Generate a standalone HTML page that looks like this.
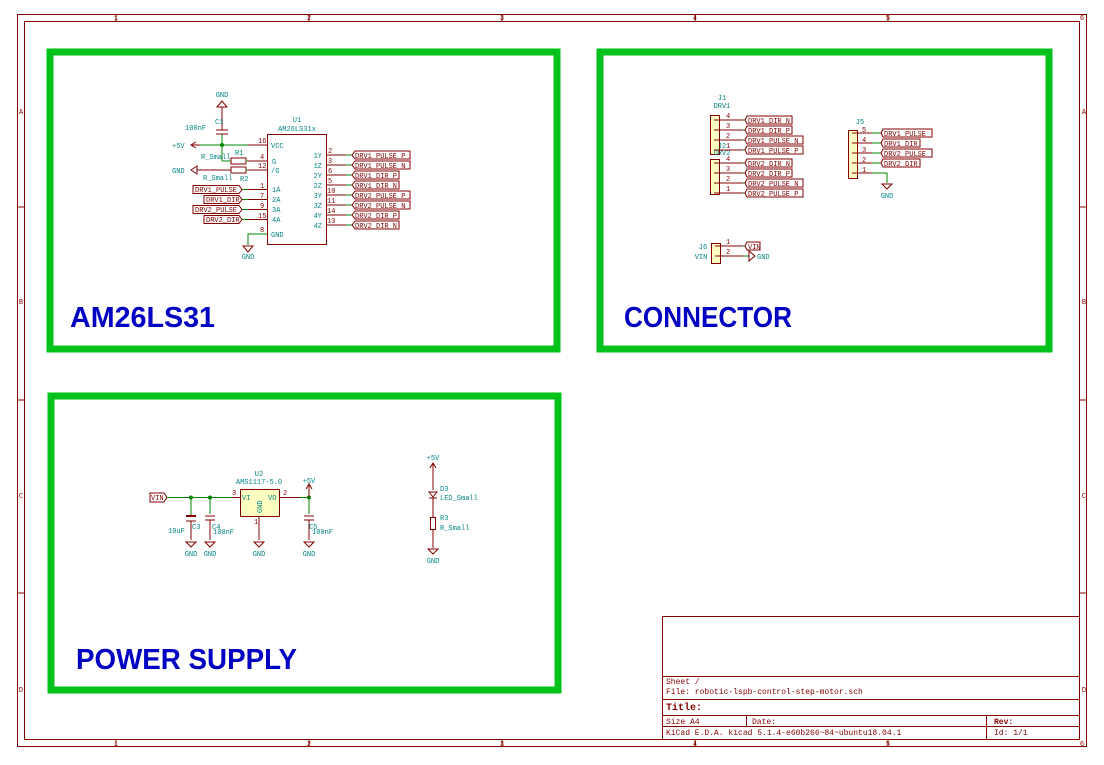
<!DOCTYPE html>
<html><head><meta charset="utf-8"><style>
html,body{margin:0;padding:0;background:#fff;}
svg{display:block;}
text{font-family:"Liberation Mono",monospace;}
.r{fill:#840000;}
.t{fill:#008484;}
.lb{fill:#fff;stroke:#840000;stroke-width:1;}
.pw{stroke:#840000;stroke-width:1;fill:none;}
.w{stroke:#008400;stroke-width:1;fill:none;}
.body{fill:#ffffc2;stroke:#840000;stroke-width:1;}
.g{fill:none;stroke:#00c21a;stroke-width:7;}
.big{font-family:"Liberation Sans",sans-serif;font-weight:bold;fill:#0000c2;}
</style></head><body>
<svg width="1104" height="765" viewBox="0 0 1104 765" xmlns="http://www.w3.org/2000/svg">
<!-- frame -->
<rect x="17.5" y="14.5" width="1069" height="732" fill="none" stroke="#840000"/>
<rect x="24.5" y="21.5" width="1055" height="718" fill="none" stroke="#840000"/>
<g stroke="#840000">
<line x1="116" y1="14" x2="116" y2="21"/><line x1="309" y1="14" x2="309" y2="21"/><line x1="502" y1="14" x2="502" y2="21"/><line x1="695" y1="14" x2="695" y2="21"/><line x1="888" y1="14" x2="888" y2="21"/>
<line x1="116" y1="740" x2="116" y2="747"/><line x1="309" y1="740" x2="309" y2="747"/><line x1="502" y1="740" x2="502" y2="747"/><line x1="695" y1="740" x2="695" y2="747"/><line x1="888" y1="740" x2="888" y2="747"/>
<line x1="17" y1="207" x2="24" y2="207"/><line x1="17" y1="400" x2="24" y2="400"/><line x1="17" y1="593" x2="24" y2="593"/>
<line x1="1080" y1="207" x2="1087" y2="207"/><line x1="1080" y1="400" x2="1080" y2="400"/><line x1="1080" y1="400" x2="1087" y2="400"/><line x1="1080" y1="593" x2="1087" y2="593"/>
</g>
<g class="r" font-size="7" text-anchor="middle">
<text x="116" y="20">1</text><text x="309" y="20">2</text><text x="502" y="20">3</text><text x="695" y="20">4</text><text x="888" y="20">5</text><text x="1082" y="20">6</text>
<text x="116" y="746">1</text><text x="309" y="746">2</text><text x="502" y="746">3</text><text x="695" y="746">4</text><text x="888" y="746">5</text><text x="1082" y="746">6</text>
<text x="21" y="114">A</text><text x="21" y="304">B</text><text x="21" y="498">C</text><text x="21" y="692">D</text>
<text x="1084" y="114">A</text><text x="1084" y="304">B</text><text x="1084" y="498">C</text><text x="1084" y="692">D</text>
</g>
<!-- title block -->
<g stroke="#840000" fill="none">
<rect x="662.5" y="616.5" width="417" height="123"/>
<line x1="662" y1="676.5" x2="1080" y2="676.5"/>
<line x1="662" y1="699.5" x2="1080" y2="699.5"/>
<line x1="662" y1="715.5" x2="1080" y2="715.5"/>
<line x1="662" y1="726.5" x2="1080" y2="726.5"/>
<line x1="746.5" y1="715" x2="746.5" y2="727"/>
<line x1="986.5" y1="715" x2="986.5" y2="740"/>
</g>
<g class="r" font-size="8">
<text x="666" y="684">Sheet /</text>
<text x="666" y="694">File: robotic-lspb-control-step-motor.sch</text>
<text x="666" y="710" font-weight="bold" font-size="10" font-family="Liberation Sans,sans-serif">Title:</text>
<text x="666" y="724">Size A4</text>
<text x="752" y="724">Date:</text>
<text x="994" y="724" font-weight="bold">Rev:</text>
<text x="666" y="735">KiCad E.D.A.  kicad 5.1.4-e60b266~84~ubuntu18.04.1</text>
<text x="994" y="735">Id: 1/1</text>
</g>
<!-- green boxes -->
<rect class="g" x="50" y="52" width="507" height="297"/>
<rect class="g" x="600" y="52" width="449" height="297"/>
<rect class="g" x="51" y="396" width="507" height="294"/>
<text class="big" x="70" y="327" font-size="29" textLength="145" lengthAdjust="spacingAndGlyphs">AM26LS31</text>
<text class="big" x="624" y="327" font-size="29" textLength="168" lengthAdjust="spacingAndGlyphs">CONNECTOR</text>
<text class="big" x="76" y="669" font-size="29" textLength="221" lengthAdjust="spacingAndGlyphs">POWER SUPPLY</text>

<!-- ===== AM26LS31 ===== -->
<g font-size="7">
<text class="t" x="222" y="97" text-anchor="middle">GND</text>
<polygon points="222,101 217,107 227,107" class="pw"/>
<line class="pw" x1="222" y1="107" x2="222" y2="130"/>
<line class="pw" x1="216" y1="130" x2="228" y2="130"/>
<line class="pw" x1="216" y1="134" x2="228" y2="134"/>
<line class="w" x1="222" y1="134" x2="222" y2="161"/>
<text class="t" x="215" y="124">C1</text>
<text class="t" x="185" y="130">100nF</text>
<text class="t" x="172" y="148">+5V</text>
<polyline class="pw" points="196,142 191,145 196,148"/>
<line class="pw" x1="191" y1="145" x2="200" y2="145"/>
<line class="w" x1="200" y1="145" x2="248" y2="145"/>
<circle cx="222" cy="145" r="2" fill="#008400"/>
<line class="w" x1="222" y1="161" x2="231" y2="161"/>
<rect class="pw" x="231" y="158" width="15" height="6"/>
<rect class="pw" x="231" y="167" width="15" height="6"/>
<line class="w" x1="246" y1="161" x2="248" y2="161"/>
<line class="w" x1="246" y1="170" x2="248" y2="170"/>
<polygon class="pw" points="191,170 197,166 197,174"/>
<line class="pw" x1="197" y1="170" x2="231" y2="170"/>
<text class="t" x="172" y="173">GND</text>
<text class="t" x="235" y="155">R1</text><text class="t" x="201" y="159">R_Small</text>
<text class="t" x="240" y="181">R2</text><text class="t" x="203" y="180">R_Small</text>
<!-- IC -->
<rect x="267.5" y="134.5" width="59" height="110" fill="#fff" stroke="#840000"/>
<text class="t" x="297" y="122" text-anchor="middle">U1</text>
<text class="t" x="297" y="131" text-anchor="middle">AM26LS31x</text>
<g class="pw">
<line x1="248" y1="145" x2="267" y2="145"/><line x1="248" y1="161" x2="267" y2="161"/><line x1="248" y1="170" x2="267" y2="170"/>
<line x1="248" y1="189.5" x2="267" y2="189.5"/><line x1="248" y1="199.5" x2="267" y2="199.5"/><line x1="248" y1="209.5" x2="267" y2="209.5"/><line x1="248" y1="219.5" x2="267" y2="219.5"/>
<line x1="248" y1="234" x2="267" y2="234"/>
<line x1="326" y1="155" x2="346" y2="155"/><line x1="326" y1="165" x2="346" y2="165"/><line x1="326" y1="175" x2="346" y2="175"/><line x1="326" y1="185" x2="346" y2="185"/>
<line x1="326" y1="195" x2="346" y2="195"/><line x1="326" y1="205" x2="346" y2="205"/><line x1="326" y1="215" x2="346" y2="215"/><line x1="326" y1="225" x2="346" y2="225"/>
</g>
<g class="r">
<text x="258" y="143">16</text><text x="260" y="159">4</text><text x="258" y="168">12</text>
<text x="260" y="188">1</text><text x="260" y="198">7</text><text x="260" y="208">9</text><text x="258" y="218">15</text><text x="260" y="232">8</text>
<text x="328" y="153">2</text><text x="328" y="163">3</text><text x="328" y="173">6</text><text x="328" y="183">5</text>
<text x="327" y="193">10</text><text x="327" y="203">11</text><text x="327" y="213">14</text><text x="327" y="223">13</text>
</g>
<g class="t">
<text x="271" y="148">VCC</text><text x="272" y="164">G</text><text x="271" y="173">/G</text>
<text x="272" y="192">1A</text><text x="272" y="202">2A</text><text x="272" y="212">3A</text><text x="272" y="222">4A</text>
<text x="271" y="237">GND</text>
<g text-anchor="end"><text x="322" y="158">1Y</text><text x="322" y="168">1Z</text><text x="322" y="178">2Y</text><text x="322" y="188">2Z</text><text x="322" y="198">3Y</text><text x="322" y="208">3Z</text><text x="322" y="218">4Y</text><text x="322" y="228">4Z</text></g>
</g>
<polyline class="w" points="267,234 248,234 248,245"/>
<polygon class="pw" points="243,246 253,246 248,252"/>
<text class="t" x="248" y="259" text-anchor="middle">GND</text>
<!-- input labels -->
<g class="w"><line x1="242" y1="189.5" x2="248" y2="189.5"/><line x1="242" y1="199.5" x2="248" y2="199.5"/><line x1="242" y1="209.5" x2="248" y2="209.5"/><line x1="242" y1="219.5" x2="248" y2="219.5"/></g>
<polygon class="lb" points="193,185.5 239,185.5 242,189.5 239,193.5 193,193.5"/>
<polygon class="lb" points="204,195.5 239,195.5 242,199.5 239,203.5 204,203.5"/>
<polygon class="lb" points="193,205.5 239,205.5 242,209.5 239,213.5 193,213.5"/>
<polygon class="lb" points="204,215.5 239,215.5 242,219.5 239,223.5 204,223.5"/>
<g class="r"><text x="195" y="192">DRV1_PULSE</text><text x="206" y="202">DRV1_DIR</text><text x="195" y="212">DRV2_PULSE</text><text x="206" y="222">DRV2_DIR</text></g>
<!-- output labels -->
<g class="w"><line x1="346" y1="155" x2="352" y2="155"/><line x1="346" y1="165" x2="352" y2="165"/><line x1="346" y1="175" x2="352" y2="175"/><line x1="346" y1="185" x2="352" y2="185"/><line x1="346" y1="195" x2="352" y2="195"/><line x1="346" y1="205" x2="352" y2="205"/><line x1="346" y1="215" x2="352" y2="215"/><line x1="346" y1="225" x2="352" y2="225"/></g>
<polygon class="lb" points="352,155 355,151 410,151 410,159 355,159"/>
<polygon class="lb" points="352,165 355,161 410,161 410,169 355,169"/>
<polygon class="lb" points="352,175 355,171 399,171 399,179 355,179"/>
<polygon class="lb" points="352,185 355,181 399,181 399,189 355,189"/>
<polygon class="lb" points="352,195 355,191 410,191 410,199 355,199"/>
<polygon class="lb" points="352,205 355,201 410,201 410,209 355,209"/>
<polygon class="lb" points="352,215 355,211 399,211 399,219 355,219"/>
<polygon class="lb" points="352,225 355,221 399,221 399,229 355,229"/>
<g class="r"><text x="355" y="158">DRV1_PULSE_P</text><text x="355" y="168">DRV1_PULSE_N</text><text x="355" y="178">DRV1_DIR_P</text><text x="355" y="188">DRV1_DIR_N</text><text x="355" y="198">DRV2_PULSE_P</text><text x="355" y="208">DRV2_PULSE_N</text><text x="355" y="218">DRV2_DIR_P</text><text x="355" y="228">DRV2_DIR_N</text></g>
</g>

<!-- ===== CONNECTOR ===== -->
<g font-size="7">
<text class="t" x="722" y="100" text-anchor="middle">J1</text>
<text class="t" x="722" y="108" text-anchor="middle">DRV1</text>
<rect class="body" x="710.5" y="115.5" width="9" height="39"/>
<rect class="body" x="710.5" y="159.5" width="9" height="35"/>
<text class="t" x="722" y="148" text-anchor="middle">J2</text>
<text class="t" x="722" y="155" text-anchor="middle">DRV2</text>
<g class="pw">
<line x1="714" y1="120" x2="743" y2="120"/><line x1="714" y1="130" x2="743" y2="130"/><line x1="714" y1="140" x2="743" y2="140"/><line x1="714" y1="150" x2="743" y2="150"/>
<line x1="714" y1="163" x2="743" y2="163"/><line x1="714" y1="173" x2="743" y2="173"/><line x1="714" y1="183" x2="743" y2="183"/><line x1="714" y1="193" x2="743" y2="193"/>
</g>
<g class="r"><text x="726" y="118">4</text><text x="726" y="128">3</text><text x="726" y="138">2</text><text x="726" y="148">1</text><text x="726" y="161">4</text><text x="726" y="171">3</text><text x="726" y="181">2</text><text x="726" y="191">1</text></g>
<g class="w"><line x1="743" y1="120" x2="745" y2="120"/><line x1="743" y1="130" x2="745" y2="130"/><line x1="743" y1="140" x2="745" y2="140"/><line x1="743" y1="150" x2="745" y2="150"/><line x1="743" y1="163" x2="745" y2="163"/><line x1="743" y1="173" x2="745" y2="173"/><line x1="743" y1="183" x2="745" y2="183"/><line x1="743" y1="193" x2="745" y2="193"/></g>
<polygon class="lb" points="745,120 747,116 792,116 792,124 747,124"/>
<polygon class="lb" points="745,130 747,126 792,126 792,134 747,134"/>
<polygon class="lb" points="745,140 747,136 803,136 803,144 747,144"/>
<polygon class="lb" points="745,150 747,146 803,146 803,154 747,154"/>
<polygon class="lb" points="745,163 747,159 792,159 792,167 747,167"/>
<polygon class="lb" points="745,173 747,169 792,169 792,177 747,177"/>
<polygon class="lb" points="745,183 747,179 803,179 803,187 747,187"/>
<polygon class="lb" points="745,193 747,189 803,189 803,197 747,197"/>
<g class="r"><text x="748" y="123">DRV1_DIR_N</text><text x="748" y="133">DRV1_DIR_P</text><text x="748" y="143">DRV1_PULSE_N</text><text x="748" y="153">DRV1_PULSE_P</text>
<text x="748" y="166">DRV2_DIR_N</text><text x="748" y="176">DRV2_DIR_P</text><text x="748" y="186">DRV2_PULSE_N</text><text x="748" y="196">DRV2_PULSE_P</text></g>
<!-- J5 -->
<text class="t" x="860" y="124" text-anchor="middle">J5</text>
<rect class="body" x="848.5" y="130.5" width="9" height="48"/>
<g class="pw"><line x1="852" y1="133" x2="872" y2="133"/><line x1="852" y1="143" x2="872" y2="143"/><line x1="852" y1="153" x2="872" y2="153"/><line x1="852" y1="163" x2="872" y2="163"/><line x1="852" y1="173" x2="872" y2="173"/></g>
<g class="r"><text x="862" y="132">5</text><text x="862" y="142">4</text><text x="862" y="152">3</text><text x="862" y="162">2</text><text x="862" y="172">1</text></g>
<g class="w"><line x1="872" y1="133" x2="881" y2="133"/><line x1="872" y1="143" x2="881" y2="143"/><line x1="872" y1="153" x2="881" y2="153"/><line x1="872" y1="163" x2="881" y2="163"/><polyline points="872,173 887,173 887,183"/></g>
<polygon class="pw" points="882,184 892,184 887,189"/>
<text class="t" x="887" y="198" text-anchor="middle">GND</text>
<polygon class="lb" points="881,133 883,129 932,129 932,137 883,137"/>
<polygon class="lb" points="881,143 883,139 920,139 920,147 883,147"/>
<polygon class="lb" points="881,153 883,149 932,149 932,157 883,157"/>
<polygon class="lb" points="881,163 883,159 920,159 920,167 883,167"/>
<g class="r"><text x="884" y="136">DRV1_PULSE</text><text x="884" y="146">DRV1_DIR</text><text x="884" y="156">DRV2_PULSE</text><text x="884" y="166">DRV2_DIR</text></g>
<!-- J6 -->
<text class="t" x="703" y="249" text-anchor="middle">J6</text>
<text class="t" x="701" y="259" text-anchor="middle">VIN</text>
<rect class="body" x="711.5" y="243.5" width="9" height="20"/>
<g class="pw"><line x1="715" y1="246" x2="743" y2="246"/><line x1="715" y1="256" x2="743" y2="256"/></g>
<g class="r"><text x="726" y="244">1</text><text x="726" y="254">2</text></g>
<g class="w"><line x1="743" y1="246" x2="745" y2="246"/><line x1="743" y1="256" x2="749" y2="256"/></g>
<polygon class="lb" points="745,246 747,242 760,242 760,250 747,250"/>
<text class="r" x="748" y="249">VIN</text>
<polygon class="pw" points="749,251 749,261 755,256"/>
<text class="t" x="757" y="259">GND</text>
</g>

<!-- ===== POWER SUPPLY ===== -->
<g font-size="7">
<polygon class="lb" points="150,493 164,493 167,497.5 164,502 150,502"/>
<text class="r" x="151" y="500">VIN</text>
<line class="w" x1="167" y1="497.5" x2="232" y2="497.5"/>
<line class="pw" x1="232" y1="497.5" x2="240" y2="497.5"/>
<circle cx="191" cy="497.5" r="2" fill="#008400"/><circle cx="210" cy="497.5" r="2" fill="#008400"/>
<!-- C3 -->
<line class="w" x1="191" y1="497" x2="191" y2="514"/>
<line class="pw" x1="191" y1="514" x2="191" y2="516"/>
<rect x="186" y="515" width="10" height="2" fill="#840000"/>
<line class="pw" x1="186" y1="521" x2="196" y2="521"/>
<line class="pw" x1="191" y1="521" x2="191" y2="540"/>
<polygon class="pw" points="186,542 196,542 191,547"/>
<text class="t" x="191" y="556" text-anchor="middle">GND</text>
<text class="t" x="168" y="533">10uF</text><text class="t" x="192" y="529">C3</text>
<!-- C4 -->
<line class="w" x1="210" y1="497" x2="210" y2="514"/>
<line class="pw" x1="205" y1="516" x2="215" y2="516"/><line class="pw" x1="205" y1="520" x2="215" y2="520"/>
<line class="pw" x1="210" y1="520" x2="210" y2="540"/>
<polygon class="pw" points="205,542 215,542 210,547"/>
<text class="t" x="210" y="556" text-anchor="middle">GND</text>
<text class="t" x="212" y="529">C4</text><text class="t" x="213" y="534">100nF</text>
<!-- U2 -->
<text class="t" x="259" y="476" text-anchor="middle">U2</text>
<text class="t" x="259" y="484" text-anchor="middle">AMS1117-5.0</text>
<rect class="body" x="240.5" y="489.5" width="39" height="27"/>
<text class="r" x="232" y="495">3</text><text class="r" x="283" y="495">2</text>
<text class="t" x="242" y="500">VI</text><text class="t" x="268" y="500">VO</text>
<text class="t" x="262" y="513" transform="rotate(-90 262 513)">GND</text>
<line class="pw" x1="259" y1="517" x2="259" y2="540"/><text class="r" x="254" y="524">1</text>
<polygon class="pw" points="254,542 264,542 259,547"/>
<text class="t" x="259" y="556" text-anchor="middle">GND</text>
<line class="pw" x1="280" y1="497.5" x2="300" y2="497.5"/>
<line class="w" x1="300" y1="497.5" x2="309" y2="497.5"/>
<circle cx="309" cy="497.5" r="2" fill="#008400"/>
<line class="pw" x1="309" y1="484" x2="309" y2="497"/>
<polyline class="pw" points="306,489 309,484 312,489"/>
<text class="t" x="309" y="483" text-anchor="middle">+5V</text>
<line class="w" x1="309" y1="497" x2="309" y2="514"/>
<line class="pw" x1="304" y1="516" x2="314" y2="516"/><line class="pw" x1="304" y1="520" x2="314" y2="520"/>
<line class="pw" x1="309" y1="520" x2="309" y2="540"/>
<polygon class="pw" points="304,542 314,542 309,547"/>
<text class="t" x="309" y="556" text-anchor="middle">GND</text>
<text class="t" x="309" y="529">C5</text><text class="t" x="312" y="534">100nF</text>
<!-- LED -->
<text class="t" x="433" y="460" text-anchor="middle">+5V</text>
<polyline class="pw" points="430,468 433,463 436,468"/>
<line class="pw" x1="433" y1="463" x2="433" y2="490"/>
<polygon class="pw" points="429,492 437,492 433,497"/><line class="pw" x1="429" y1="498" x2="437" y2="498"/>
<line class="pw" x1="433" y1="498" x2="433" y2="517"/>
<text class="t" x="440" y="491">D3</text><text class="t" x="440" y="500">LED_Small</text>
<rect class="pw" x="430.5" y="517.5" width="5" height="12"/>
<line class="pw" x1="433" y1="530" x2="433" y2="548"/>
<polygon class="pw" points="428,549 438,549 433,554"/>
<text class="t" x="433" y="563" text-anchor="middle">GND</text>
<text class="t" x="440" y="520">R3</text><text class="t" x="440" y="530">R_Small</text>
</g>
</svg>
</body></html>
